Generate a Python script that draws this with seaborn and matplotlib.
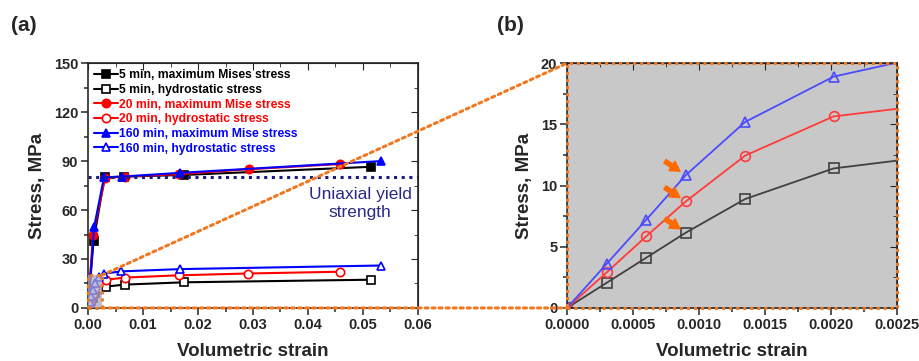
import matplotlib
matplotlib.use("Agg")
import matplotlib.pyplot as plt
from matplotlib.patches import Rectangle, ConnectionPatch
from matplotlib.ticker import MultipleLocator
import seaborn as sns

# ---------------------------------------------------------------- data ---- #
# maximum Mises stress
mises_5_x = [0.0, 0.0010, 0.0030, 0.0066, 0.0175, 0.0515]
mises_5_y = [0.0, 41.0, 80.0, 80.5, 81.5, 86.5]
mises_20_x = [0.0, 0.0009, 0.0031, 0.0067, 0.0166, 0.0292, 0.0459]
mises_20_y = [0.0, 45.0, 79.5, 80.5, 82.0, 85.0, 88.2]
mises_160_x = [0.0, 0.0011, 0.0029, 0.0061, 0.0168, 0.0533]
mises_160_y = [0.0, 49.5, 80.0, 80.5, 82.8, 90.0]

# hydrostatic stress
hydro_5_x = [0.0, 0.0003, 0.0006, 0.0009, 0.00135, 0.00202, 0.0033, 0.0067, 0.0174, 0.0515]
hydro_5_y = [0.0, 2.05, 4.1, 6.15, 8.9, 11.4, 13.1, 14.3, 15.7, 17.3]
hydro_20_x = [0.0, 0.0003, 0.0006, 0.0009, 0.00135, 0.00202, 0.0033, 0.0067, 0.0165, 0.0291, 0.0459]
hydro_20_y = [0.0, 2.9, 5.85, 8.7, 12.45, 15.65, 17.3, 18.6, 20.0, 21.1, 22.2]
hydro_160_x = [0.0, 0.0003, 0.0006, 0.0009, 0.00135, 0.00202, 0.0029, 0.0060, 0.0168, 0.0533]
hydro_160_y = [0.0, 3.6, 7.2, 10.85, 15.2, 18.9, 21.0, 22.4, 23.8, 26.0]

labels = [
    "5 min, maximum Mises stress",
    "5 min, hydrostatic stress",
    "20 min, maximum Mise stress",
    "20 min, hydrostatic stress",
    "160 min, maximum Mise stress",
    "160 min, hydrostatic stress",
]
yield_strength = 80.0
arrow_idx = 3          # point highlighted by arrows in (b)
# --------------------------------------------------------------------------- #

sns.set_style("ticks")
plt.rcParams["font.family"] = ["Liberation Sans", "DejaVu Sans"]
plt.rcParams["font.weight"] = "bold"

fig = plt.figure(figsize=(9.19, 3.61), dpi=100)
ax_a = fig.add_axes([0.0958, 0.147, 0.359, 0.678])
ax_b = fig.add_axes([0.617, 0.147, 0.359, 0.678])

series_a = [
    (mises_5_x, mises_5_y, "black", "s", "black", labels[0]),
    (hydro_5_x, hydro_5_y, "black", "s", "white", labels[1]),
    (mises_20_x, mises_20_y, "red", "o", "red", labels[2]),
    (hydro_20_x, hydro_20_y, "red", "o", "white", labels[3]),
    (mises_160_x, mises_160_y, "blue", "^", "blue", labels[4]),
    (hydro_160_x, hydro_160_y, "blue", "^", "white", labels[5]),
]
for x, y, c, m, fc, lab in series_a:
    sns.lineplot(x=x, y=y, ax=ax_a, color=c, marker=m, markersize=6,
                 markerfacecolor=fc, markeredgecolor=c, markeredgewidth=1.2,
                 linewidth=1.5, sort=False, estimator=None, label=lab)

ax_a.axhline(yield_strength, color="#1a1a80", linestyle=(0, (1, 1.5)), linewidth=2.2)
ax_a.text(0.0495, 64, "Uniaxial yield\nstrength", color="#2a2a85", fontsize=12.5,
          fontweight="normal", ha="center", va="center", linespacing=1.3)

ax_a.set_xlim(0, 0.06)
ax_a.set_ylim(0, 150)
ax_a.xaxis.set_major_locator(MultipleLocator(0.01))
ax_a.xaxis.set_minor_locator(MultipleLocator(0.005))
ax_a.yaxis.set_major_locator(MultipleLocator(30))
ax_a.yaxis.set_minor_locator(MultipleLocator(15))
ax_a.set_xticklabels([f"{v:.2f}" for v in ax_a.get_xticks()])

leg = ax_a.legend(loc="upper left", frameon=False, fontsize=8.7, handlelength=2.0,
                  handletextpad=0.1, labelspacing=0.22, borderaxespad=0.2,
                  borderpad=0.3)
for txt, (_, _, c, _, _, _) in zip(leg.get_texts(), series_a):
    txt.set_color(c)
    txt.set_fontweight("bold")

# panel (b): zoom on hydrostatic stress
series_b = [
    (hydro_5_x, hydro_5_y, "#404040", "s"),
    (hydro_20_x, hydro_20_y, "#ff3b3b", "o"),
    (hydro_160_x, hydro_160_y, "#4b4bff", "^"),
]
ax_b.set_facecolor("#c8c8c8")
for x, y, c, m in series_b:
    sns.lineplot(x=x, y=y, ax=ax_b, color=c, marker=m, markersize=7,
                 markerfacecolor="none", markeredgecolor=c, markeredgewidth=1.2,
                 linewidth=1.3, sort=False, estimator=None)
    ax_b.annotate("", xy=(x[arrow_idx], y[arrow_idx]), xytext=(-15, 10),
                  textcoords="offset points",
                  arrowprops=dict(arrowstyle="simple,head_width=0.8,head_length=0.7,tail_width=0.3",
                                  color="#ff6a00", shrinkA=0, shrinkB=5))

ax_b.set_xlim(0, 0.0025)
ax_b.set_ylim(0, 20)
ax_b.xaxis.set_major_locator(MultipleLocator(0.0005))
ax_b.xaxis.set_minor_locator(MultipleLocator(0.00025))
ax_b.yaxis.set_major_locator(MultipleLocator(5))
ax_b.yaxis.set_minor_locator(MultipleLocator(2.5))
ax_b.set_xticklabels([f"{v:.4f}" for v in ax_b.get_xticks()])
if ax_b.get_legend():
    ax_b.get_legend().remove()

orange = "#f07820"
for ax in (ax_a, ax_b):
    for s in ax.spines.values():
        s.set_visible(True)
        s.set_linewidth(1.2)
    ax.tick_params(which="both", direction="out", labelsize=10.5, width=1.1, pad=2)
    ax.tick_params(which="major", length=5)
    ax.tick_params(which="minor", length=3)
    ax.set_xlabel("Volumetric strain", fontsize=13.5, fontweight="bold", labelpad=8)
    ax.set_ylabel("Stress, MPa", fontsize=13.5, fontweight="bold", labelpad=6)
    for lab in ax.get_xticklabels() + ax.get_yticklabels():
        lab.set_fontweight("bold")
    sec_x = ax.secondary_xaxis("top")
    sec_x.xaxis.set_major_locator(ax.xaxis.get_major_locator())
    sec_x.xaxis.set_minor_locator(ax.xaxis.get_minor_locator())
    sec_x.tick_params(which="both", direction="in", labeltop=False)
    sec_x.tick_params(which="major", length=5)
    sec_x.tick_params(which="minor", length=3)
    sec_y = ax.secondary_yaxis("right")
    sec_y.yaxis.set_major_locator(ax.yaxis.get_major_locator())
    sec_y.yaxis.set_minor_locator(ax.yaxis.get_minor_locator())
    sec_y.tick_params(which="both", direction="in", labelright=False)
    sec_y.tick_params(which="major", length=5)
    sec_y.tick_params(which="minor", length=3)

# zoom box in (a) and its links to (b)
bx0, bx1 = ax_b.get_xlim()
by0, by1 = ax_b.get_ylim()
ax_a.add_patch(Rectangle((bx0, by0), bx1 - bx0, by1 - by0, facecolor="#a8a8c8",
                         alpha=0.75, edgecolor="none", zorder=3))
ax_a.add_patch(Rectangle((bx0, by0), bx1 - bx0, by1 - by0, facecolor="none",
                         edgecolor=orange, linestyle=(0, (1, 1.3)), linewidth=2.2,
                         zorder=4, clip_on=False))
ax_b.add_patch(Rectangle((0, 0), 1, 1, transform=ax_b.transAxes, facecolor="none",
                         edgecolor=orange, linestyle=(0, (1, 1.3)), linewidth=2.2,
                         zorder=5, clip_on=False))
for pa, pb in [((bx1, by1), (bx0, by1)), ((bx1, by0), (bx0, by0))]:
    con = ConnectionPatch(xyA=pa, coordsA=ax_a.transData, xyB=pb, coordsB=ax_b.transData,
                          color=orange, linestyle=(0, (1, 1.3)), linewidth=2.2, zorder=6)
    fig.add_artist(con)

fig.text(0.012, 0.93, "(a)", fontsize=15, fontweight="bold", va="center")
fig.text(0.541, 0.93, "(b)", fontsize=15, fontweight="bold", va="center")

fig.savefig("out.png", dpi=100, facecolor="white")
